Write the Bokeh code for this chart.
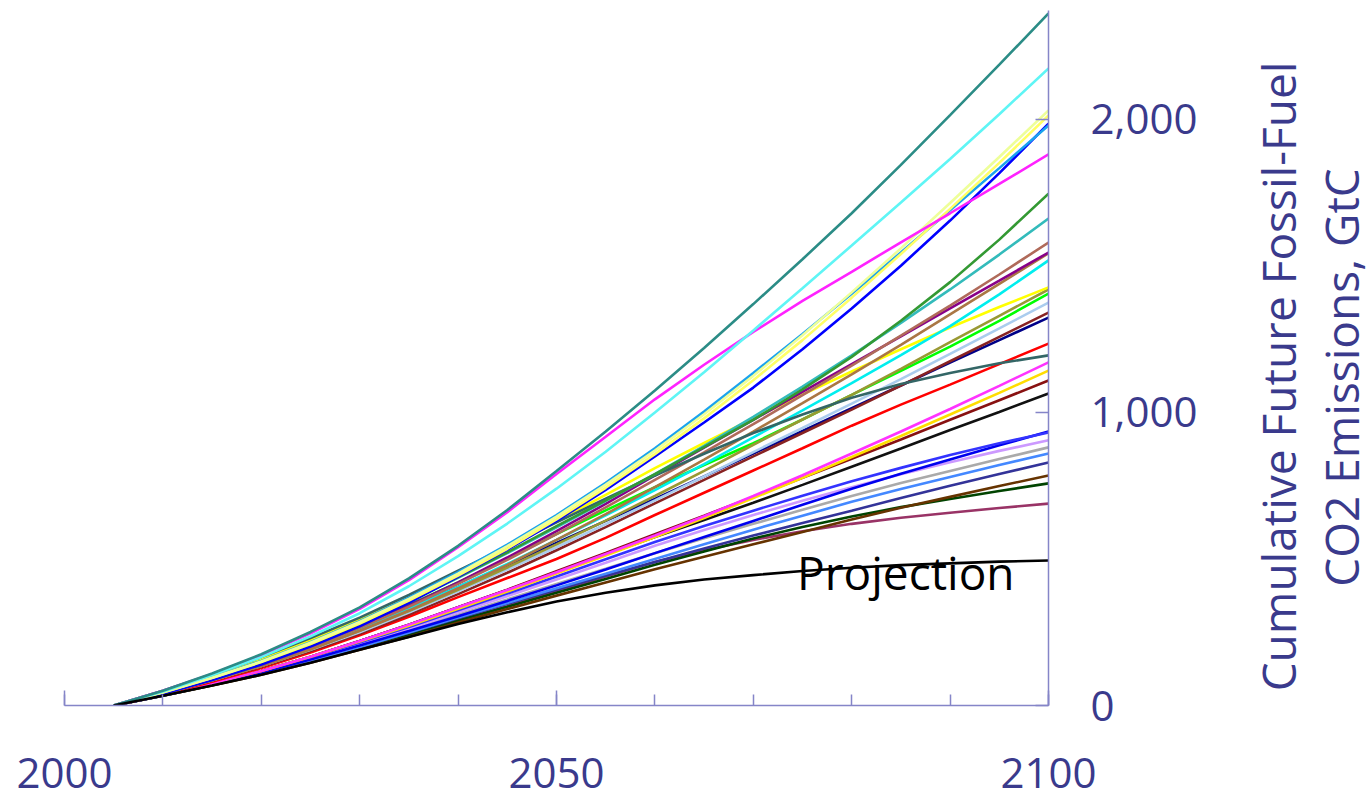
import math
from bokeh.plotting import figure
from bokeh.layouts import row
from bokeh.models import (Range1d, SingleIntervalTicker, FixedTicker,
                          NumeralTickFormatter, Label)
from bokeh.core.properties import value
from bokeh.embed import file_html
from bokeh.resources import INLINE

# ---------------- data (cumulative emissions since 2005, GtC) ----------------
years = [2005, 2010, 2015, 2020, 2025, 2030, 2035, 2040, 2045, 2050,
         2055, 2060, 2065, 2070, 2075, 2080, 2085, 2090, 2095, 2100]

teal        = [0, 50, 109, 175, 251, 335, 434, 545, 667, 800, 935, 1075, 1220, 1370, 1523, 1680, 1845, 2015, 2187, 2362]
cyan        = [0, 48, 104, 165, 236, 315, 407, 510, 621, 740, 866, 1000, 1137, 1280, 1424, 1570, 1717, 1865, 2018, 2174]
magenta     = [0, 50, 108, 172, 246, 330, 428, 540, 660, 790, 917, 1045, 1163, 1275, 1381, 1480, 1581, 1680, 1780, 1881]
lightyellow = [0, 45, 95, 150, 214, 285, 364, 450, 544, 645, 754, 870, 994, 1125, 1264, 1410, 1560, 1715, 1872, 2031]
paleyellow  = [0, 44, 94, 148, 210, 280, 358, 443, 535, 635, 743, 858, 980, 1110, 1247, 1392, 1541, 1695, 1852, 2014]
skyblue     = [0, 45, 96, 152, 216, 288, 368, 455, 549, 650, 760, 878, 1003, 1135, 1268, 1405, 1546, 1690, 1834, 1980]
blue        = [0, 40, 87, 140, 201, 270, 350, 440, 532, 630, 736, 850, 966, 1085, 1216, 1355, 1501, 1655, 1817, 1986]
green       = [0, 42, 91, 145, 208, 278, 355, 438, 523, 612, 700, 790, 882, 975, 1079, 1190, 1313, 1445, 1590, 1747]
lightteal   = [0, 42, 91, 145, 208, 278, 354, 436, 520, 608, 698, 790, 886, 985, 1088, 1195, 1306, 1420, 1539, 1662]
darkslate   = [0, 50, 106, 165, 230, 300, 377, 460, 542, 625, 706, 785, 859, 930, 993, 1050, 1097, 1135, 1168, 1195]
rosybrown   = [0, 42, 89, 140, 199, 265, 337, 415, 497, 585, 676, 770, 864, 960, 1059, 1160, 1262, 1365, 1471, 1580]
purple      = [0, 42, 89, 140, 200, 268, 341, 420, 505, 595, 688, 785, 880, 975, 1070, 1165, 1260, 1355, 1450, 1546]
brown       = [0, 40, 86, 135, 192, 255, 324, 400, 480, 565, 653, 745, 839, 935, 1032, 1130, 1231, 1335, 1439, 1543]
cyan2       = [0, 42, 89, 140, 198, 262, 331, 405, 483, 565, 649, 735, 824, 915, 1007, 1100, 1196, 1295, 1403, 1519]
yellow      = [0, 48, 101, 158, 223, 295, 372, 455, 541, 630, 719, 810, 896, 980, 1061, 1140, 1216, 1290, 1360, 1427]
olive       = [0, 40, 86, 135, 192, 255, 322, 395, 471, 550, 631, 715, 801, 890, 976, 1060, 1149, 1240, 1330, 1420]
lime        = [0, 44, 93, 145, 205, 272, 343, 420, 500, 585, 666, 745, 821, 895, 976, 1060, 1142, 1225, 1313, 1406]
lightsteel  = [0, 40, 86, 135, 190, 250, 317, 390, 464, 540, 619, 700, 782, 865, 947, 1030, 1114, 1200, 1287, 1375]
maroon      = [0, 40, 85, 132, 186, 245, 310, 380, 453, 530, 609, 690, 770, 850, 930, 1010, 1092, 1175, 1258, 1341]
navy        = [0, 42, 89, 140, 198, 262, 331, 405, 479, 555, 630, 705, 782, 860, 937, 1015, 1092, 1170, 1247, 1324]
red         = [0, 38, 81, 128, 181, 240, 303, 370, 435, 500, 572, 650, 726, 802, 878, 955, 1027, 1095, 1165, 1235]
magenta2    = [0, 36, 76, 118, 166, 220, 276, 335, 394, 455, 517, 580, 646, 715, 786, 860, 935, 1012, 1091, 1171]
yellow2     = [0, 36, 76, 118, 166, 218, 272, 330, 389, 450, 512, 575, 640, 708, 777, 848, 920, 993, 1067, 1143]
maroon2     = [0, 36, 76, 118, 166, 220, 276, 335, 395, 458, 521, 585, 648, 712, 777, 842, 908, 975, 1042, 1109]
black       = [0, 36, 76, 118, 166, 220, 276, 335, 394, 455, 515, 575, 633, 692, 753, 815, 877, 940, 1002, 1065]
blue2a      = [0, 36, 76, 118, 165, 215, 268, 325, 382, 440, 499, 558, 613, 665, 716, 765, 811, 855, 895, 932]
blue2b      = [0, 34, 72, 112, 157, 205, 254, 305, 357, 410, 464, 520, 575, 630, 685, 740, 791, 840, 888, 935]
lavender    = [0, 35, 74, 115, 161, 210, 262, 318, 373, 430, 487, 545, 599, 650, 699, 745, 789, 830, 869, 905]
gray        = [0, 34, 72, 112, 157, 205, 256, 310, 362, 415, 467, 520, 571, 620, 668, 715, 759, 800, 841, 881]
medblue     = [0, 34, 71, 110, 153, 200, 249, 300, 350, 400, 450, 500, 550, 600, 648, 695, 739, 780, 821, 860]
dslateblue  = [0, 34, 71, 110, 153, 200, 248, 298, 347, 395, 443, 490, 536, 580, 623, 665, 708, 750, 790, 829]
brown2      = [0, 33, 68, 105, 146, 190, 235, 283, 329, 375, 420, 465, 508, 550, 592, 635, 675, 712, 749, 785]
dgreen      = [0, 33, 69, 107, 149, 195, 242, 290, 337, 385, 432, 480, 526, 570, 609, 645, 677, 705, 732, 758]
mpink       = [0, 34, 70, 108, 150, 195, 241, 290, 339, 390, 440, 490, 530, 565, 595, 620, 641, 658, 674, 689]
projection  = [0, 33, 68, 105, 146, 190, 234, 278, 318, 355, 385, 410, 430, 445, 459, 470, 479, 485, 491, 495]

series = [
    (mpink, "#993366"), (dgreen, "#004400"), (brown2, "#663300"),
    (dslateblue, "#333399"), (medblue, "#4488ff"), (gray, "#aaaaaa"),
    (lavender, "#cc99ff"), (blue2b, "#0000ee"), (blue2a, "#3333ff"),
    (black, "#111111"), (maroon2, "#881111"), (yellow2, "#ffdd00"),
    (magenta2, "#ff33ff"), (red, "#ff0000"), (navy, "#000088"),
    (maroon, "#882222"), (lightsteel, "#aaccee"), (lime, "#00ff00"),
    (olive, "#999933"), (yellow, "#ffff00"), (cyan2, "#00eeee"),
    (brown, "#aa7744"), (purple, "#880088"), (rosybrown, "#b06a5a"),
    (darkslate, "#336666"), (lightteal, "#33bbbb"), (green, "#339933"),
    (blue, "#0000ff"), (skyblue, "#1aa3ee"), (paleyellow, "#ffff66"),
    (lightyellow, "#eeff99"), (magenta, "#ff22ff"), (cyan, "#5ff5f5"),
    (teal, "#2b8c86"), (projection, "#000000"),
]

y_ticks = [0, 1000, 2000]
title_lines = ["Cumulative Future Fossil-Fuel", "CO2 Emissions, GtC"]
projection_label = "Projection"

# ---------------- main figure ----------------
FONT = "Open Sans"
TXT = "#3a3a8c"
AX = "#8585c8"
H = 803
W_TITLE = 142
TOP, BOTTOM = 10, 98

p = figure(width=1372 - W_TITLE, height=H, output_backend="svg", toolbar_location=None,
           x_range=Range1d(2000, 2100), y_range=Range1d(0, 2372),
           x_axis_location="below", y_axis_location="right",
           min_border_left=64, min_border_right=1372 - W_TITLE - 1048,
           min_border_top=TOP, min_border_bottom=BOTTOM)
p.outline_line_color = None
p.grid.visible = False
p.background_fill_color = "white"
p.border_fill_color = "white"

for vals, col in series:
    p.line(years, vals, line_color=col, line_width=2.6)

xa = p.xaxis[0]
xa.ticker = SingleIntervalTicker(interval=50, num_minor_ticks=5)
xa.axis_line_color = AX
xa.axis_line_width = 1.5
xa.major_tick_line_color = AX
xa.minor_tick_line_color = AX
xa.major_tick_line_width = 1.5
xa.minor_tick_line_width = 1.5
xa.major_tick_in = 15
xa.major_tick_out = 0
xa.minor_tick_in = 11
xa.minor_tick_out = 0
xa.major_label_text_font = FONT
xa.major_label_text_font_size = "42px"
xa.major_label_text_color = TXT
xa.major_label_standoff = 52

ya = p.yaxis[0]
ya.ticker = FixedTicker(ticks=y_ticks)
ya.formatter = NumeralTickFormatter(format="0,0")
ya.axis_line_color = AX
ya.axis_line_width = 1.5
ya.major_tick_line_color = AX
ya.major_tick_line_width = 1.5
ya.major_tick_in = 13
ya.major_tick_out = 0
ya.minor_tick_line_color = None
ya.major_label_text_font = FONT
ya.major_label_text_font_size = "42px"
ya.major_label_text_color = TXT
ya.major_label_standoff = 42

p.add_layout(Label(x=2085.5, y=454, text=projection_label,
                   text_align="center", text_baseline="middle",
                   text_font=FONT, text_font_size="46px", text_color="#000000"))

# ---------------- right-hand title strip (text reads bottom to top) ----------------
# data coordinates of this strip are pixels measured up from the page bottom
t = figure(width=W_TITLE, height=H, output_backend="svg", toolbar_location=None,
           x_range=Range1d(0, W_TITLE), y_range=Range1d(BOTTOM, H - TOP),
           x_axis_location=None, y_axis_location=None,
           min_border_left=0, min_border_right=0,
           min_border_top=TOP, min_border_bottom=BOTTOM)
t.outline_line_color = None
t.grid.visible = False
t.background_fill_color = "white"
t.border_fill_color = "white"
t.text(x=[1277 - (1372 - W_TITLE), 1340 - (1372 - W_TITLE)], y=[H - 376, H - 377],
       text=title_lines, angle=math.pi / 2,
       text_align="center", text_baseline="middle",
       text_font=value(FONT), text_font_size=value("46px"), text_color=TXT)

open("out.html", "w").write(file_html(row(p, t), INLINE))
